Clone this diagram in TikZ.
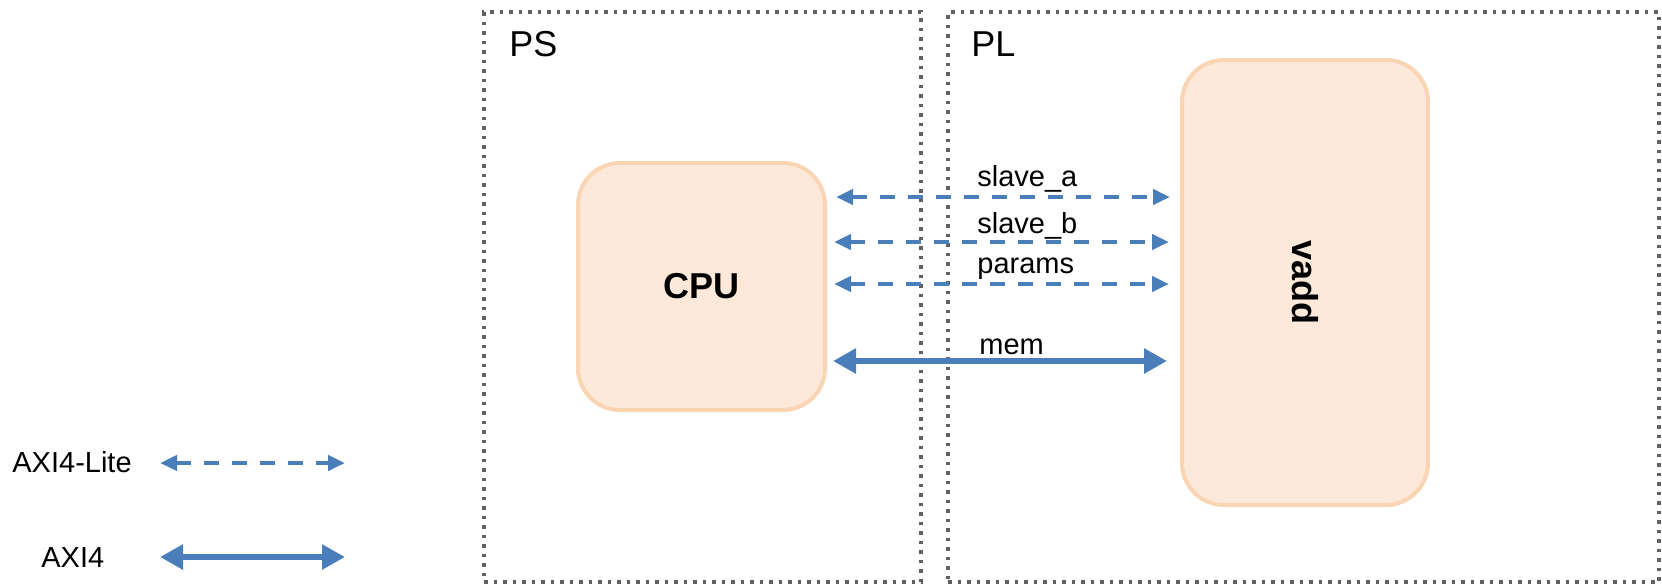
\documentclass[tikz,border=0pt]{standalone}
\usepackage{fontspec}
\setmainfont{Liberation Sans}
\usetikzlibrary{arrows.meta}
\definecolor{axiblue}{RGB}{74,126,187}
\definecolor{blockfill}{RGB}{252,233,218}
\definecolor{blockline}{RGB}{250,213,180}
\definecolor{regiongray}{RGB}{96,96,96}
\tikzset{
  region/.style={draw=regiongray, line width=1.75pt, dash pattern=on 1.75pt off 3pt,
    rectangle, inner sep=0pt},
  block/.style={draw=blockline, fill=blockfill, line width=2pt, rectangle,
    rounded corners=21pt, inner sep=0pt, font=\fontsize{18}{21}\selectfont\bfseries},
  regionlabel/.style={anchor=base west, inner sep=0pt, font=\fontsize{18}{21}\selectfont},
  buslabel/.style={anchor=base west, inner sep=0pt, font=\fontsize{14.5}{17}\selectfont},
  lite/.style={draw=axiblue, line width=2.2pt, dash pattern=on 7.5pt off 6.5pt,
    {Triangle[length=8.5pt,width=7.5pt]}-{Triangle[length=8.5pt,width=7.5pt]}},
  full/.style={draw=axiblue, line width=3pt,
    {Triangle[length=11.5pt,width=12pt]}-{Triangle[length=11.5pt,width=12pt]}}
}
\begin{document}
\begin{tikzpicture}[x=0.5pt,y=-0.5pt]
  \useasboundingbox (0,0) rectangle (1662,585);

  % PS and PL regions
  \node[region, minimum width=218.5pt, minimum height=285pt] (ps) at (702.5,297) {};
  \node[region, minimum width=355.5pt, minimum height=285pt] (pl) at (1303.5,297) {};
  \node[regionlabel] (pslabel) at (509,56) {PS};
  \node[regionlabel] (pllabel) at (971,56) {PL};

  % processing blocks
  \node[block, minimum width=123.5pt, minimum height=123.5pt] (cpu) at (701.5,286.5) {CPU};
  \node[block, minimum width=123pt, minimum height=222.5pt] (vadd) at (1305,282.5) {};
  \node[rotate=-90, inner sep=0pt, font=\fontsize{18}{21}\selectfont\bfseries] (vaddlabel)
    at (vadd.center) {vadd};

  % bus rows
  \coordinate (ya) at (0,197);
  \coordinate (yb) at (0,242);
  \coordinate (yp) at (0,284);
  \coordinate (ym) at (0,361);

  \draw[lite, shorten <=4.5pt, shorten >=5pt] (cpu.east |- ya) -- (vadd.west |- ya);
  \draw[lite, shorten <=3.5pt, shorten >=5.5pt] (cpu.east |- yb) -- (vadd.west |- yb);
  \draw[lite, shorten <=3.5pt, shorten >=5.5pt] (cpu.east |- yp) -- (vadd.west |- yp);
  \draw[full, shorten <=3pt, shorten >=6.5pt] (cpu.east |- ym) -- (vadd.west |- ym);

  \node[buslabel] (la) at (977,186) {slave\_a};
  \node[buslabel] (lb) at (977,233) {slave\_b};
  \node[buslabel] (lp) at (977,273) {params};
  \node[buslabel] (lm) at (979,354) {mem};

  % legend
  \node[buslabel] (litelabel) at (12,472) {AXI4-Lite};
  \node[buslabel] (fulllabel) at (41,567) {AXI4};
  \coordinate (lite1) at (160,463);
  \coordinate (lite2) at (345,463);
  \coordinate (full1) at (160,557);
  \coordinate (full2) at (345,557);
  \draw[lite] (lite1) -- (lite2);
  \draw[full] (full1) -- (full2);
\end{tikzpicture}
\end{document}
